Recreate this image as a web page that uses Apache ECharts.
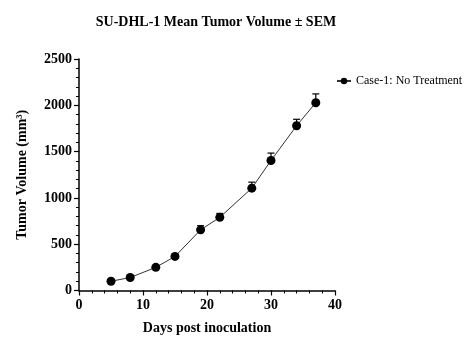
<!DOCTYPE html>
<html><head><meta charset="utf-8">
<script src="https://cdn.jsdelivr.net/npm/echarts@6/dist/echarts.min.js"></script>
<style>html,body{margin:0;padding:0;background:#fff}#c{width:471px;height:363px}</style>
</head><body><div id="c"></div>
<script>
const days = [5, 8, 12, 15, 19, 22, 27, 30, 34, 37];
const meanVolume = [100, 140, 250, 368, 655, 790, 1105, 1404, 1779, 2028];
const semVolume = [10, 12, 15, 20, 45, 42, 65, 80, 70, 95];
const seriesName = 'Case-1: No Treatment';
const titleText = 'SU-DHL-1 Mean Tumor Volume ± SEM';

const FONT = '"Liberation Serif", "Times New Roman", serif';
const chart = echarts.init(document.getElementById('c'), null, {renderer: 'canvas'});
const lineData = days.map((d, i) => [d, meanVolume[i]]);
const errData = days.map((d, i) => [d, meanVolume[i], semVolume[i]]);

chart.setOption({
  animation: false,
  backgroundColor: '#fff',
  title: {
    text: titleText, left: 211, top: 10, textAlign: 'center',
    textStyle: {fontFamily: FONT, fontWeight: 'bold', fontSize: 14, color: '#000'}
  },
  legend: {
    data: [seriesName], left: 331, top: 70, itemWidth: 14, itemHeight: 8, itemGap: 6,
    textStyle: {fontFamily: FONT, fontSize: 12, color: '#000'}
  },
  grid: {left: 79, right: 136, top: 59, bottom: 72.5, containLabel: false},
  xAxis: {
    type: 'value', min: 0, max: 40, interval: 10,
    name: 'Days post inoculation', nameLocation: 'middle', nameGap: 31,
    nameTextStyle: {fontFamily: FONT, fontWeight: 'bold', fontSize: 14, color: '#000'},
    axisLine: {lineStyle: {color: '#000', width: 1.5}},
    axisTick: {show: true, length: 5, lineStyle: {color: '#000', width: 1.2}},
    minorTick: {show: true, splitNumber: 5, length: 3, lineStyle: {color: '#000', width: 1}},
    axisLabel: {fontFamily: FONT, fontWeight: 'bold', fontSize: 14, color: '#000', margin: 8,
      formatter: v => String(v)},
    splitLine: {show: false}
  },
  yAxis: {
    type: 'value', min: 0, max: 2500, interval: 500,
    name: 'Tumor Volume (mm³)', nameLocation: 'middle', nameGap: 50, nameRotate: 90,
    nameTextStyle: {fontFamily: FONT, fontWeight: 'bold', fontSize: 14, color: '#000'},
    axisLine: {show: true, lineStyle: {color: '#000', width: 1.5}},
    axisTick: {show: true, length: 5, lineStyle: {color: '#000', width: 1.2}},
    minorTick: {show: true, splitNumber: 5, length: 3, lineStyle: {color: '#000', width: 1}},
    axisLabel: {fontFamily: FONT, fontWeight: 'bold', fontSize: 14, color: '#000', margin: 7,
      formatter: v => String(v)},
    splitLine: {show: false}
  },
  series: [
    {
      name: seriesName, type: 'line', data: lineData,
      symbol: 'circle', symbolSize: 9,
      itemStyle: {color: '#000'},
      lineStyle: {color: '#333', width: 1},
      z: 3
    },
    {
      name: 'err', type: 'custom', data: errData, z: 2,
      renderItem: function (params, api) {
        const x = api.value(0), m = api.value(1), s = api.value(2);
        const p0 = api.coord([x, m]);
        const p1 = api.coord([x, m + s]);
        const hw = 3.5;
        return {
          type: 'group',
          children: [
            {type: 'line', shape: {x1: p0[0], y1: p0[1], x2: p1[0], y2: p1[1]}, style: {stroke: '#000', lineWidth: 1.2}},
            {type: 'line', shape: {x1: p1[0] - hw, y1: p1[1], x2: p1[0] + hw, y2: p1[1]}, style: {stroke: '#000', lineWidth: 1.2}}
          ]
        };
      }
    }
  ]
});
</script></body></html>
